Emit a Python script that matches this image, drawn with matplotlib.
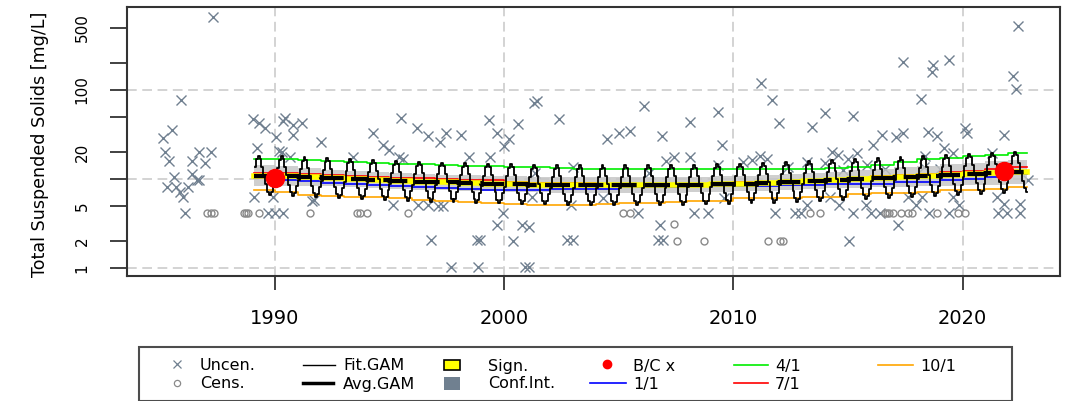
import numpy as np
import matplotlib
matplotlib.use('Agg')
import matplotlib.pyplot as plt
from matplotlib.lines import Line2D
from matplotlib.patches import Rectangle
from matplotlib.ticker import NullLocator

plt.rcParams['font.family'] = ['DejaVu Sans']
plt.rcParams['lines.scale_dashes'] = False

# ---------------- data ----------------
unc_year = [1985.1, 1985.5, 1985.2, 1985.4, 1985.6, 1985.3, 1985.7, 1985.85, 1986.0, 1986.2,
            1986.4, 1986.6, 1986.4, 1986.7, 1986.95, 1987.2, 1986.7, 1986.1, 1985.9, 1987.3,
            1989.05, 1989.3, 1989.55, 1989.2, 1989.1, 1989.9, 1990.05, 1990.45, 1990.35, 1990.8,
            1990.8, 1991.2, 1990.3, 1990.2, 1990.65, 1989.7, 1990.0, 1990.35,
            1991.6, 1991.7, 1992.0, 1993.4, 1994.3, 1994.7, 1995.0, 1995.4, 1995.6, 1995.5,
            1995.15, 1996.2, 1996.25, 1996.7, 1996.7, 1996.8, 1997.1, 1997.2, 1997.35, 1997.45,
            1997.7, 1998.1, 1998.45, 1998.8, 1998.85, 1998.95, 1999.35, 1999.4, 1999.7, 1999.7,
            1999.95, 2000.0, 2000.2, 2000.4, 2000.6, 2000.8, 2000.9,
            2001.1, 2001.1, 2001.2, 2001.35, 2001.3, 2001.45, 2002.4, 2002.75, 2002.9, 2003.0,
            2003.0, 2004.3, 2004.5, 2005.0, 2005.5, 2005.85, 2006.1, 2006.3, 2006.7, 2006.8,
            2006.9, 2006.95, 2007.05, 2007.4, 2008.1, 2008.1, 2008.3, 2008.9, 2009.35, 2009.35,
            2009.5, 2009.6, 2010.4, 2010.8, 2011.15, 2011.45, 2011.2, 2011.7, 2011.8, 2012.0,
            2012.4, 2012.7, 2012.95, 2013.2, 2013.2, 2013.45, 2014.0, 2014.0,
            2014.2, 2014.3, 2014.55, 2014.6, 2014.8, 2015.0, 2015.05, 2015.2, 2015.2, 2015.4,
            2015.8, 2015.85, 2016.0, 2016.1, 2016.4, 2016.5, 2016.6, 2017.1, 2017.2, 2017.4,
            2017.4, 2017.6, 2017.95, 2018.2, 2018.25, 2018.3, 2018.35, 2018.5, 2018.55, 2018.65,
            2018.7, 2018.9, 2019.0, 2019.2, 2019.4, 2019.4, 2019.6, 2019.6, 2019.85, 2020.1,
            2020.2, 2021.3, 2021.5, 2021.55, 2021.8, 2021.8, 2021.95, 2022.2, 2022.35, 2022.4,
            2022.5, 2022.5, 2022.85]
unc_value = [29, 35.5, 20, 16, 10.5, 8.1, 8.1, 7.1, 6.3, 8.1,
             11.4, 9.7, 16, 20, 15, 20, 9.7, 4.15, 77, 660,
             47, 42.6, 37.4, 22.3, 6.3, 6.3, 29.6, 48, 45, 40.4,
             31.2, 43, 20.1, 20.6, 17.7, 4.15, 4.15, 4.15,
             5.7, 5.8, 26, 17.7, 33, 24.1, 21.2, 17.7, 16.8, 48,
             5.1, 37.4, 5.1, 30.4, 5.1, 2.06, 5.0, 26, 5.0, 32.9,
             1.03, 31.2, 17.7, 2.06, 1.03, 2.06, 46, 17.7, 32.9, 3.04,
             4.15, 23.5, 28.1, 2.0, 41.5, 3.04, 1.03,
             2.9, 1.03, 6.3, 11.7, 71, 75, 47, 2.06, 5.1, 2.06,
             13.6, 6.1, 28, 32.5, 35, 4.15, 66, 11.7, 2.06, 3.04,
             30.4, 2.06, 15.8, 17.9, 17.7, 44, 4.15, 4.15, 57, 14.4,
             24.1, 6.1, 15.5, 16.5, 18.2, 16.8, 120, 77, 4.15, 43,
             13.6, 4.15, 4.15, 15.5, 5.1, 38.4, 55, 15.1,
             6.3, 20.1, 18.6, 5.1, 12.5, 16.8, 2.0, 51, 4.15, 19.6,
             5.1, 14.4, 4.15, 24.1, 4.15, 31.2, 13.0, 29.6, 3.04, 32.9,
             206, 6.3, 5.1, 79, 6.3, 13.6, 18.1, 33.7, 4.15, 159,
             191, 30.4, 12.8, 22.3, 217, 4.15, 19.6, 6.3, 5.1, 37.4,
             32.9, 19.6, 6.3, 4.15, 31.2, 5.2, 4.15, 144, 103, 524,
             5.2, 4.15, 9.7]

cens_year = [1987.05, 1987.2, 1987.35, 1988.65, 1988.75, 1988.85, 1989.3, 1991.55, 1993.6,
             1993.7, 1994.0, 1995.8, 2005.2, 2005.5, 2007.4, 2007.55, 2008.7, 2011.5, 2012.05,
             2012.15, 2013.35, 2013.8, 2016.6, 2016.7, 2016.8, 2016.95, 2017.3, 2017.6, 2017.8,
             2018.9, 2019.8, 2020.1]
cens_value = [4.15, 4.15, 4.15, 4.15, 4.15, 4.15, 4.15, 4.15, 4.15,
              4.15, 4.15, 4.15, 4.15, 4.15, 3.1, 2.0, 2.0, 2.0, 2.0,
              2.0, 4.15, 4.15, 4.15, 4.15, 4.15, 4.15, 4.15, 4.15, 4.15,
              4.15, 4.15, 4.15]

years = list(range(1989, 2023))
record_start, record_end = 1989.1, 2022.8

avg_gam = [10.95, 10.80, 10.53, 10.26, 10.00, 9.74, 9.50, 9.25, 9.14, 9.02, 8.90, 8.79,
           8.67, 8.56, 8.56, 8.56, 8.56, 8.56, 8.56, 8.67, 8.79, 8.90, 9.02, 9.25, 9.50, 9.74, 10.00,
           10.26, 10.53, 10.80, 11.09, 11.38, 11.68, 11.99]
ci_half_log = [0.12, 0.11, 0.10, 0.095, 0.09] + [0.085] * 19 + \
              [0.09, 0.095, 0.10, 0.105, 0.11, 0.115, 0.12, 0.125, 0.13, 0.14]
season_jan = [10.34, 9.74, 9.42, 9.09, 8.79, 8.56, 8.34, 8.07, 7.86, 7.66, 7.58, 7.52,
              7.62, 7.66, 7.66, 7.72, 8.03, 8.07, 8.13, 8.34, 8.34, 8.34, 8.45, 8.56, 8.67, 8.79, 8.90,
              8.90, 9.14, 9.37, 9.74, 10.13, 10.53, 11.38]
season_apr = [16.78, 16.78, 16.35, 15.93, 15.52, 15.13, 14.93, 14.74, 14.37, 14.18, 14.00, 13.75,
              13.47, 13.19, 13.02, 12.96, 12.85, 12.85, 12.85, 12.85, 12.85, 12.85, 12.85, 12.85, 12.96, 13.30, 13.82,
              14.55, 15.52, 16.57, 17.44, 18.13, 18.60, 19.38]
season_jul = [11.83, 11.77, 11.38, 11.09, 10.80, 10.61, 10.39, 10.18, 10.13, 9.87, 9.74, 9.37,
              9.02, 8.95, 8.95, 8.79, 8.56, 8.56, 8.56, 8.67, 8.79, 9.14, 9.37, 9.62, 9.62, 9.62, 10.26,
              10.80, 11.09, 11.38, 11.99, 12.30, 12.96, 13.82]
season_oct = [7.52, 7.20, 6.61, 6.44, 6.33, 6.20, 6.07, 5.88, 5.70, 5.56, 5.42, 5.24,
              5.10, 5.10, 5.10, 5.24, 5.33, 5.33, 5.56, 5.70, 5.70, 6.07, 6.07, 6.07, 6.33, 6.33, 6.70,
              7.02, 7.05, 7.20, 7.43, 7.52, 7.82, 8.07]
month_offset_log = [-0.03, 0.09, 0.18, 0.22, 0.19, 0.10, 0.01, -0.10, -0.18, -0.22, -0.19, -0.11]

bc_year = [1990.0, 2021.8]
bc_value = [10.3, 12.3]

ytick_values = [1, 2, 5, 10, 20, 50, 100, 200, 500]
ytick_labels = ['1', '2', '5', '', '20', '', '100', '', '500']
xtick_values = [1990, 2000, 2010, 2020]
grid_x = [1990, 2000, 2010, 2020]
grid_y = [1, 10, 100]

# ---------------- figure ----------------
W, H = 1066, 401
fig = plt.figure(figsize=(W / 100, H / 100), dpi=100)
ax = fig.add_axes([127 / W, 1 - 276 / H, (1060 - 127) / W, (276 - 7) / H])
ax.set_yscale('log')
ax.set_xlim(1983.55, 2024.25)
ax.set_ylim(0.813, 857)

grid_kw = dict(color='#d0d0d0', lw=1.3, ls=(0, (7, 4)), zorder=0)
for gx in grid_x:
    ax.axvline(gx, **grid_kw)
for gy in grid_y:
    ax.axhline(gy, **grid_kw)

pt_col = '#708090'
ax.plot(unc_year, unc_value, 'x', ls='none', color=pt_col, ms=7, mew=1.0, zorder=2)
ax.plot(cens_year, cens_value, 'o', ls='none', mfc='none', mec='#8a8a8a', ms=5, mew=1.0, zorder=2)

edges = [record_start] + list(range(1990, 2023)) + [record_end]
avg_arr = np.array(avg_gam)
ci = np.array(ci_half_log)
lo = list(avg_arr / 10 ** ci)
hi = list(avg_arr * 10 ** ci)
ax.fill_between(edges, lo + [lo[-1]], hi + [hi[-1]], step='post', color='#c4c4c4',
                alpha=0.8, lw=0, zorder=3)

for vals, col in [(season_jan, '#0000ff'), (season_apr, '#00ee00'),
                  (season_jul, '#ff0000'), (season_oct, '#ffa500')]:
    ax.plot(edges, list(vals) + [vals[-1]], drawstyle='steps-post', color=col, lw=1.2, zorder=4)

# significance (yellow) and annual average GAM
ax.plot(edges, avg_gam + [avg_gam[-1]], drawstyle='steps-post', color='#ffff00', lw=4, zorder=5)

fit_t, fit_v = [], []
for i, yr in enumerate(years):
    for m in range(12):
        t = yr + (m + 0.5) / 12
        if record_start <= t <= record_end:
            fit_t.append(t)
            fit_v.append(avg_gam[i] * 10 ** month_offset_log[m])
ax.plot(fit_t, fit_v, drawstyle='steps-mid', color='black', lw=1.3, zorder=6)

ax.plot(edges, avg_gam + [avg_gam[-1]], drawstyle='steps-post', color='black', lw=3,
        ls=(0, (18, 6)), zorder=7)

ax.plot(bc_year, bc_value, 'o', ls='none', color='#ff0000', ms=13, zorder=8)

# axes styling
for s in ax.spines.values():
    s.set_linewidth(1.5)
    s.set_color('#333333')
ax.set_yticks(ytick_values)
ax.set_yticklabels(ytick_labels, rotation=90, va='center')
ax.yaxis.set_minor_locator(NullLocator())
ax.set_xticks(xtick_values)
ax.tick_params(axis='y', length=12, width=1.3, pad=15, labelsize=11, color='#333333')
ax.tick_params(axis='x', length=10, width=1.3, pad=13.5, labelsize=14, color='#333333')
ax.set_ylabel('Total Suspended Solids [mg/L]', fontsize=12.6)
ax.yaxis.set_label_coords(-0.084, 0.491)

# ---------------- legend (manual, R style) ----------------
def fx(px):
    return px / W

def fy(py):
    return 1 - py / H

fig.add_artist(Rectangle((fx(139), fy(401)), fx(1012) - fx(139), fy(347) - fy(401),
                         transform=fig.transFigure, fill=False, ec='#4d4d4d', lw=1.5))
r1, r2 = 366, 384
fs = 11.5

def ltext(px, py, s):
    fig.text(fx(px), fy(py), s, va='center', ha='left', fontsize=fs)

def lline(x0, x1, py, col, lw):
    fig.add_artist(Line2D([fx(x0), fx(x1)], [fy(py), fy(py)], color=col, lw=lw,
                          transform=fig.transFigure))

fig.add_artist(Line2D([fx(177)], [fy(r1 - 2)], marker='x', ms=6, mew=0.9, color=pt_col,
                      ls='none', transform=fig.transFigure))
fig.add_artist(Line2D([fx(177)], [fy(r2 - 1)], marker='o', ms=4.5, mew=0.9, mfc='none',
                      mec='#8a8a8a', ls='none', transform=fig.transFigure))
ltext(200, r1, 'Uncen.')
ltext(200, r2, 'Cens.')
lline(303, 335, r1 - 1, 'black', 1.0)
lline(303, 333, r2 - 1, 'black', 2.5)
ltext(343, r1, 'Fit.GAM')
ltext(343, r2, 'Avg.GAM')
fig.add_artist(Rectangle((fx(444), fy(r1 + 4)), fx(460) - fx(444), fy(r1 - 6) - fy(r1 + 4),
                         transform=fig.transFigure, fc='#ffff00', ec='black', lw=1.2))
fig.add_artist(Rectangle((fx(444), fy(r2 + 6)), fx(460) - fx(444), fy(r2 - 7) - fy(r2 + 6),
                         transform=fig.transFigure, fc=pt_col, ec='none'))
ltext(488, r1, 'Sign.')
ltext(488, r2, 'Conf.Int.')
fig.add_artist(Line2D([fx(607)], [fy(r1 - 2)], marker='o', ms=6, color='#ff0000',
                      ls='none', transform=fig.transFigure))
lline(590, 626, r2 - 1, '#0000ff', 1.2)
ltext(633, r1, 'B/C x')
ltext(633, r2, '1/1')
lline(734, 768, r1 - 1, '#00ee00', 1.2)
lline(734, 768, r2 - 1, '#ff0000', 1.2)
ltext(775, r1, '4/1')
ltext(775, r2, '7/1')
lline(878, 913, r1 - 1, '#ffa500', 1.2)
ltext(920, r1, '10/1')

fig.savefig('out.png', dpi=100)
